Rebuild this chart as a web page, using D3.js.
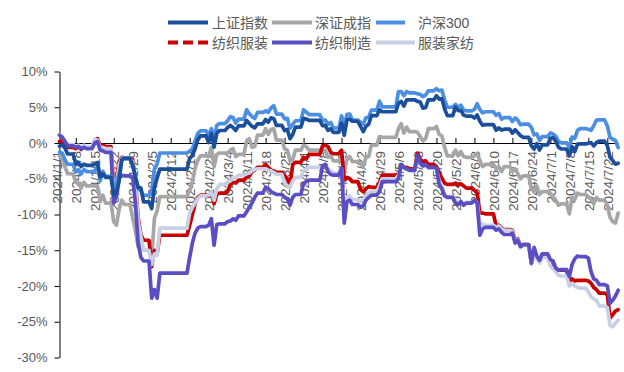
<!DOCTYPE html>
<html>
<head>
<meta charset="utf-8">
<script src="https://cdn.jsdelivr.net/npm/d3@7"></script>
<style>
  html, body { margin: 0; padding: 0; background: #fff; }
  svg { display: block; font-family: "Liberation Sans", Arial, "Noto Sans CJK SC", sans-serif; }
</style>
</head>
<body>
<svg id="chart" width="624" height="372"></svg>
<script>
// Weekday market closures (Spring Festival, Qingming, Labour Day, Dragon Boat)
const holidays = ["2024-01-01", "2024-02-09", "2024-02-12", "2024-02-13", "2024-02-14", "2024-02-15",
  "2024-02-16", "2024-04-04", "2024-04-05", "2024-05-01", "2024-05-02", "2024-05-03", "2024-06-10"];
const firstDay = "2024-01-02";
const lastDay = "2024-07-26";

// Weekly tick labels (Mondays)
const tickLabels = ["2024/1/1", "2024/1/8", "2024/1/15", "2024/1/22", "2024/1/29", "2024/2/5", "2024/2/12",
  "2024/2/19", "2024/2/26", "2024/3/4", "2024/3/11", "2024/3/18", "2024/3/25", "2024/4/1", "2024/4/8",
  "2024/4/15", "2024/4/22", "2024/4/29", "2024/5/6", "2024/5/13", "2024/5/20", "2024/5/27", "2024/6/3",
  "2024/6/10", "2024/6/17", "2024/6/24", "2024/7/1", "2024/7/8", "2024/7/15", "2024/7/22"];
const yTicks = [10, 5, 0, -5, -10, -15, -20, -25, -30];

// Cumulative change since the end of 2023, %, one value per trading day
const shIndex = [
  -0.43, -0.26, -0.69, -1.54, -2.94, -2.75, -3.27, -2.97, -3.12, -2.98, -2.72, -4.75, -4.34, -4.80, -7.35, -6.86, -5.18, -2.31, -2.18, -3.08, -4.85, -6.26,
  -6.27, -8.23, -9.17, -6.23, -4.88, -3.66, -2.16, -1.75, -0.81, 0.45, 1.01, 0.07, 1.36, -0.57, 1.35,
  1.75, 2.16, 2.45, 2.18, 1.76, 2.39, 3.14, 2.72, 2.32, 2.13, 2.68, 3.29, 2.92, 3.52, 3.43, 2.46, 1.73, 1.90, 0.61, 1.20, 2.23,
  3.44, 3.36, 3.17, 2.42, 2.47, 1.76, 1.99, 1.50, 2.77, 1.08, 3.24, 3.34, 3.04, 2.34, 1.58, 2.35, 2.62, 3.82, 4.64, 4.37,
  5.57, 5.81, 5.16, 6.03, 6.04, 5.82, 5.74, 4.87, 4.96, 6.02, 6.60, 6.15, 6.17, 4.76, 3.83, 5.01, 4.53, 4.57, 3.92, 3.76,
  3.48, 3.91, 3.04, 2.48, 2.57, 1.79, 2.10, 1.81, 1.94, 1.38, 1.86, 1.45, 1.01, 0.78, -0.40, -0.84, -0.08, -0.98, -0.25,
  0.67, 0.74, 0.25, -0.58, -0.84, -1.76, -0.52, -1.20, -0.15, -0.12, -0.03, 0.05, -0.41, 0.07, 0.25, -0.36, -2.00, -2.45, -2.97, -2.82
];
const szIndex = [
  -1.8, -2.2, -3.3, -4.3, -5.5, -5.6, -6.3, -5.5, -6.0, -6.0, -6.0, -8.2, -7.3, -8.4, -11.0, -11.5, -9.2, -8.0, -8.6, -10.5, -12.3, -14.5,
  -14.0, -15.0, -16.1, -10.5, -9.5, -7.5, -6.6, -5.4, -3.5, -2.4, -1.8, -1.9, -0.6, -3.3, -1.6,
  -1.4, -1.4, -1.0, -0.8, -1.9, -1.6, 0.3, 0.6, -0.6, -0.5, 1.1, 2.0, 1.2, 1.9, 2.0, 0.4, -0.8, -1.0, -2.5, -2.3, -1.0,
  -0.3, -0.5, -1.0, -1.2, -1.0, -2.0, -1.8, -2.5, -1.8, -3.8, -2.3, -1.9, -2.6, -2.8, -3.4, -2.0, -1.9, -0.3, 0.9, 0.8,
  2.0, 2.7, 1.4, 2.2, 1.6, 1.5, 0.9, 0.3, 0.6, 2.0, 2.3, 1.2, 1.0, -0.6, -1.8, -1.0, -1.8, -1.2, -1.9, -2.0,
  -1.8, -1.5, -2.4, -3.3, -3.0, -3.6, -3.3, -4.0, -3.3, -4.0, -3.6, -4.3, -5.0, -4.6, -6.4, -6.8, -6.0, -7.2, -6.8,
  -7.0, -7.6, -8.0, -8.7, -8.5, -9.9, -7.6, -7.9, -7.0, -7.2, -7.5, -7.9, -8.5, -7.6, -8.0, -8.7, -10.4, -11.0, -11.2, -9.8
];
const hs300 = [
  -1.30, -1.40, -2.32, -2.97, -4.05, -3.75, -4.32, -3.69, -3.99, -3.91, -3.28, -5.29, -3.96, -4.66, -6.21, -5.68, -4.27, -2.21, -2.12, -3.14, -4.60, -6.29,
  -6.67, -7.33, -6.71, -3.64, -2.91, -1.40, -1.13, -0.85, 0.34, 1.36, 1.71, 1.06, 2.01, 0.62, 2.48,
  2.71, 3.10, 3.68, 3.55, 2.79, 3.34, 4.63, 4.08, 3.69, 3.43, 4.27, 4.50, 4.30, 4.90, 5.23, 4.05, 3.36, 3.45, 2.07, 2.59, 3.11,
  4.65, 4.31, 3.96, 3.13, 3.22, 2.61, 2.88, 2.10, 3.80, 2.35, 4.00, 4.04, 3.22, 2.89, 2.66, 3.53, 3.58, 4.59, 5.85, 5.05,
  7.2, 7.2, 6.6, 7.2, 7.0, 6.9, 6.8, 6.5, 6.7, 7.3, 7.6, 7.3, 7.4, 6.0, 5.0, 5.4, 5.0, 5.3, 4.6, 4.5,
  4.69, 5.50, 4.69, 4.22, 4.37, 3.88, 4.13, 3.32, 3.54, 3.01, 3.50, 3.18, 2.54, 2.65, 2.18, 1.15, 1.26, 0.37, 0.89,
  1.40, 1.25, 0.94, 0.23, 0.01, -0.60, 0.83, 0.64, 1.76, 2.01, 1.93, 1.78, 2.41, 3.21, 3.23, 2.39, 0.80, 0.52, 0.37, -0.64
];
const textileApparel = [
  0.2, 0.3, -0.3, -0.6, -0.8, -0.5, -0.9, -0.4, -0.6, 0.4, 0.6, -0.4, -0.3, -0.5, -6.0, -5.0, -2.6, -2.0, -2.1, -2.3, -5.5, -10.5,
  -12.8, -13.6, -17.3, -15.0, -15.5, -12.9, -11.5, -10.0, -8.5, -7.6, -7.3, -7.4, -6.9, -8.5, -7.2,
  -7.0, -6.8, -5.8, -5.5, -5.6, -5.2, -4.8, -4.6, -4.0, -3.8, -3.4, -3.0, -3.4, -3.8, -3.9, -4.1, -4.6, -5.0, -6.0, -3.0, -2.7,
  -2.0, -2.2, -1.6, -0.4, -0.3, -0.5, -1.3, -1.5, -1.0, -5.2, -4.8, -5.0, -5.4, -6.5, -6.8, -6.4, -6.1, -6.2, -5.5, -4.5,
  -4.3, -3.2, -3.5, -3.4, -3.6, -1.4, -2.3, -2.6, -2.5, -3.0, -3.3, -4.2, -4.9, -5.6, -5.8, -5.6, -5.9, -5.7, -6.0, -6.3,
  -6.6, -7.0, -9.8, -9.8, -9.9, -11.6, -11.5, -11.9, -12.1, -12.2, -13.7, -13.4, -14.4, -14.2, -16.8, -15.3, -16.0, -16.6, -15.8,
  -17.0, -17.5, -17.5, -17.8, -17.8, -19.6, -19.0, -19.3, -19.2, -19.2, -19.3, -19.6, -20.2, -20.5, -21.0, -21.2, -24.5, -24.0, -23.5, -23.3
];
const textileMfg = [
  1.1, 0.8, 0.2, -0.4, -0.6, -0.5, -0.8, -0.6, -0.8, 0.0, 0.2, -1.0, -1.1, -1.3, -8.4, -7.5, -5.0, -4.5, -4.6, -4.8, -8.5, -14.0,
  -16.0, -16.5, -21.7, -20.5, -21.7, -18.2, -16.0, -14.0, -12.6, -11.9, -11.7, -11.5, -10.6, -14.3, -11.4,
  -11.3, -11.0, -10.9, -10.6, -10.8, -10.2, -9.6, -9.0, -8.4, -7.6, -7.0, -6.2, -6.4, -6.8, -7.0, -7.2, -7.6, -7.8, -8.7, -7.6, -7.2,
  -5.6, -5.4, -5.2, -3.2, -3.0, -4.0, -4.4, -4.5, -3.5, -11.2, -8.2, -8.0, -8.6, -9.0, -8.8, -8.0, -7.6, -7.3, -6.8, -5.4,
  -5.0, -3.0, -3.4, -3.6, -3.8, -1.7, -2.8, -3.2, -3.0, -3.4, -3.5, -5.8, -6.4, -7.4, -7.6, -8.4, -8.6, -8.2, -8.7, -8.4,
  -8.0, -8.4, -12.9, -12.0, -11.8, -12.2, -12.0, -12.5, -12.8, -12.6, -14.0, -13.6, -14.5, -14.2, -16.8, -14.6, -15.8, -16.4, -15.5,
  -16.3, -16.5, -17.5, -17.8, -17.7, -18.7, -17.0, -16.2, -15.8, -15.9, -16.1, -18.0, -19.0, -19.2, -19.8, -20.0, -22.4, -22.0, -21.4, -20.6
];
const homeTextile = [
  1.2, 0.9, 0.3, -0.2, -0.5, -0.3, -0.7, -0.3, -0.5, 0.5, 0.4, -0.6, -0.6, -0.8, -6.8, -5.8, -3.0, -2.1, -2.2, -2.6, -6.0, -11.0,
  -13.0, -15.0, -17.0, -15.5, -15.7, -11.9, -9.8, -9.0, -8.4, -7.8, -7.4, -7.3, -6.9, -8.0, -6.4,
  -5.8, -5.5, -5.3, -5.0, -4.8, -4.5, -4.3, -4.2, -3.9, -3.7, -3.6, -3.6, -3.8, -3.9, -4.1, -4.4, -5.6, -6.0, -6.2, -5.3, -4.8,
  -3.8, -3.7, -3.4, -3.3, -3.2, -3.6, -3.9, -4.2, -3.6, -9.0, -7.6, -7.4, -7.9, -8.2, -8.0, -7.4, -7.0, -6.8, -6.0, -5.0,
  -4.5, -3.3, -3.6, -3.7, -3.9, -2.1, -3.0, -3.3, -3.2, -3.5, -3.7, -5.3, -6.0, -7.2, -7.5, -8.0, -8.5, -8.2, -8.6, -8.3,
  -8.0, -8.3, -11.2, -11.4, -11.5, -11.8, -11.6, -12.0, -12.2, -12.3, -13.8, -13.5, -14.5, -14.3, -17.0, -15.5, -16.2, -16.8, -16.0,
  -17.2, -17.6, -18.0, -18.5, -18.6, -20.0, -19.6, -20.0, -20.2, -20.3, -20.8, -21.5, -21.8, -22.0, -22.8, -23.0, -25.5, -25.7, -25.2, -24.8
];

const seriesNames = ["上证指数", "深证成指", "沪深300", "纺织服装", "纺织制造", "服装家纺"];
const seriesValues = [shIndex, szIndex, hs300, textileApparel, textileMfg, homeTextile];
const seriesColors = ["#1b4f9c", "#a6a6a6", "#4a8fe3", "#c80000", "#5a4ec4", "#c9d0e6"];

// ---- trading calendar ----
const parseDay = d3.utcParse("%Y-%m-%d");
const fmtDay = d3.utcFormat("%Y-%m-%d");
const holidaySet = new Set(holidays);
const tradeDates = d3.utcDay.range(parseDay(firstDay), d3.utcDay.offset(parseDay(lastDay), 1))
  .filter(d => d.getUTCDay() !== 0 && d.getUTCDay() !== 6 && !holidaySet.has(fmtDay(d)));
const calendarDays = d3.utcDay.range(tradeDates[0], d3.utcDay.offset(tradeDates[tradeDates.length - 1], 1));

// closing level carried over weekends and holidays
function toCalendar(values) {
  let j = 0;
  return calendarDays.map(d => {
    while (j + 1 < tradeDates.length && tradeDates[j + 1] <= d) j++;
    return { date: d, value: values[j] };
  });
}

const series = seriesNames.map((name, i) => ({ name, color: seriesColors[i], points: toCalendar(seriesValues[i]) }));

// ---- layout ----
const svg = d3.select("#chart");
const plotLeft = 59.5, plotTop = 71.5, plotBottom = 357.5;
const pxPerDay = 2.712;
const x = d3.scaleUtc()
  .domain([parseDay(firstDay), parseDay(lastDay)])
  .range([plotLeft, plotLeft + 206 * pxPerDay]);
const y = d3.scaleLinear().domain([-30, 10]).range([plotBottom, plotTop]);

const labelColor = "#595959";

// y axis
const yAxis = svg.append("g").attr("transform", `translate(${plotLeft},0)`)
  .call(d3.axisLeft(y).tickValues(yTicks).tickFormat(d => d + "%").tickSize(5).tickSizeOuter(0).tickPadding(7));
yAxis.select(".domain").attr("stroke", "#000");
yAxis.selectAll(".tick line").attr("stroke", "#000");
yAxis.selectAll(".tick text").attr("fill", labelColor).style("font-size", "13px");

// x axis along the zero line
const tickDates = tickLabels.map(s => d3.utcParse("%Y/%m/%d")(s));
const xAxis = svg.append("g").attr("transform", `translate(0,${y(0)})`)
  .call(d3.axisBottom(x).tickValues(tickDates).tickFormat(d => d3.utcFormat("%Y/%-m/%-d")(d))
    .tickSizeInner(-5).tickSizeOuter(0));
xAxis.select(".domain").attr("stroke", "#000");
xAxis.selectAll(".tick line").attr("stroke", "#000").attr("display", d => d < x.domain()[0] ? "none" : null);
xAxis.selectAll(".tick text")
  .attr("fill", labelColor).style("font-size", "13.5px")
  .attr("transform", "rotate(-90)")
  .attr("x", -8).attr("y", 0).attr("dy", "0.35em")
  .style("text-anchor", "end");

// lines, bottom to top
const drawOrder = [1, 3, 5, 4, 2, 0];
const line = d3.line().x(d => x(d.date)).y(d => y(d.value));
svg.append("g").selectAll("path")
  .data(drawOrder.map(i => series[i]))
  .join("path")
  .attr("d", d => line(d.points))
  .attr("fill", "none")
  .attr("stroke", d => d.color)
  .attr("stroke-width", 3.7)
  .attr("stroke-linejoin", "round")
  .attr("stroke-linecap", "round");

// legend
const legendItems = [
  { i: 0, x: 168, y: 22.5, len: 40, tx: 212 },
  { i: 1, x: 272, y: 22.5, len: 40, tx: 315 },
  { i: 2, x: 376, y: 22.5, len: 29, tx: 418 },
  { i: 3, x: 168, y: 42.5, len: 40, tx: 212, dash: "10,5" },
  { i: 4, x: 272, y: 42.5, len: 40, tx: 315 },
  { i: 5, x: 376, y: 42.5, len: 39, tx: 418 }
];
const legend = svg.append("g");
legendItems.forEach(it => {
  legend.append("line")
    .attr("x1", it.x).attr("x2", it.x + it.len).attr("y1", it.y).attr("y2", it.y)
    .attr("stroke", series[it.i].color).attr("stroke-width", 4)
    .attr("stroke-dasharray", it.dash || null);
  legend.append("text")
    .attr("x", it.tx).attr("y", it.y).attr("dy", "0.36em")
    .attr("fill", labelColor).style("font-size", "14px")
    .text(series[it.i].name);
});
</script>
</body>
</html>
